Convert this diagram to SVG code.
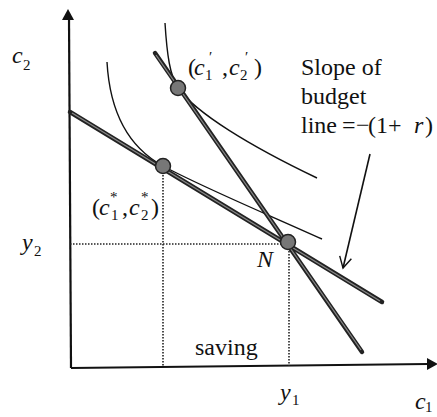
<svg xmlns="http://www.w3.org/2000/svg" width="437" height="417" viewBox="0 0 437 417">
<style>
.t{font-family:'Liberation Serif','Times New Roman',serif;font-size:24px;fill:#111}
.i{font-style:italic}
.s{font-size:15px;font-style:normal}
.ax{stroke:#111;stroke-width:2.2;fill:none}
.ic{stroke:#111;stroke-width:1.4;fill:none}
.bo{stroke:#222;stroke-width:4.5;fill:none;stroke-linecap:round}
.bi{stroke:#888;stroke-width:1.3;fill:none}
.dot{stroke:#222;stroke-width:1.6;stroke-dasharray:1.5 1.5;fill:none}
.pt{fill:#777;stroke:#222;stroke-width:1.5}
</style>
<defs>
<marker id="open" markerWidth="14" markerHeight="14" refX="12" refY="7" orient="auto" markerUnits="userSpaceOnUse">
<path d="M1,1 L12,7 L1,13" fill="none" stroke="#111" stroke-width="1.4"/>
</marker>
</defs>
<g id="axes">
<line class="ax" x1="69" y1="18" x2="71" y2="368"/>
<polygon points="68,9 62,20 74,20" fill="#111"/>
<line class="ax" x1="71" y1="368" x2="428" y2="364"/>
<polygon points="438,364 427,358 427,370" fill="#111"/>
</g>
<g id="connectors">
<line class="dot" x1="163" y1="172" x2="163" y2="367"/>
<line class="dot" x1="70" y1="244" x2="283" y2="244"/>
<line class="dot" x1="289" y1="248" x2="289" y2="366"/>
<path class="ic" d="M107,62 C110,115 130,148 163,166 C200,186 262,212 322,239"/>
<path class="ic" d="M165,23 C167,55 170,76 178,88 C196,113 250,146 317,178"/>
<line class="bo" x1="70" y1="112" x2="382" y2="302"/>
<line class="bi" x1="72" y1="113" x2="380" y2="301"/>
<line class="bo" x1="155" y1="53" x2="362" y2="352"/>
<line class="bi" x1="156" y1="55" x2="361" y2="350"/>
<line x1="370" y1="154" x2="343" y2="268" stroke="#111" stroke-width="1.6" marker-end="url(#open)"/>
</g>
<g id="point-c1p"><circle class="pt" cx="178" cy="88" r="7.5"/></g>
<g id="point-c1s"><circle class="pt" cx="163" cy="166" r="7.5"/></g>
<g id="point-N"><circle class="pt" cx="288" cy="242" r="7.5"/></g>
<g id="labels">
<text class="t i" x="12" y="63">c<tspan class="s" x="23" y="70">2</tspan></text>
<text class="t" x="188" y="75">(<tspan class="i" x="194" y="75">c</tspan><tspan class="s" x="205" y="80">1</tspan><tspan class="s" x="209" y="62">′</tspan><tspan x="222" y="75">,</tspan><tspan class="i" x="229" y="75">c</tspan><tspan class="s" x="240" y="80">2</tspan><tspan class="s" x="245" y="62">′</tspan><tspan x="254" y="75">)</tspan></text>
<text class="t" x="92" y="215">(<tspan class="i" x="99" y="215">c</tspan><tspan class="s" x="111" y="220">1</tspan><tspan class="s" x="110" y="202">*</tspan><tspan x="122" y="215">,</tspan><tspan class="i" x="129" y="215">c</tspan><tspan class="s" x="141" y="220">2</tspan><tspan class="s" x="141" y="202">*</tspan><tspan x="151" y="215">)</tspan></text>
<text class="t" x="301" y="75">Slope of</text>
<text class="t" x="301" y="104">budget</text>
<text class="t" x="301" y="133">line<tspan x="342">=</tspan><tspan x="356">−</tspan><tspan x="368">(1</tspan><tspan x="388">+</tspan><tspan class="i" x="414">r</tspan><tspan x="425">)</tspan></text>
<text class="t i" x="22" y="250">y<tspan class="s" x="34" y="256">2</tspan></text>
<text class="t i" x="257" y="267">N</text>
<text class="t" x="195" y="355">saving</text>
<text class="t i" x="280" y="400">y<tspan class="s" x="292" y="405">1</tspan></text>
<text class="t i" x="415" y="409">c<tspan class="s" x="425" y="412">1</tspan></text>
</g>
</svg>
